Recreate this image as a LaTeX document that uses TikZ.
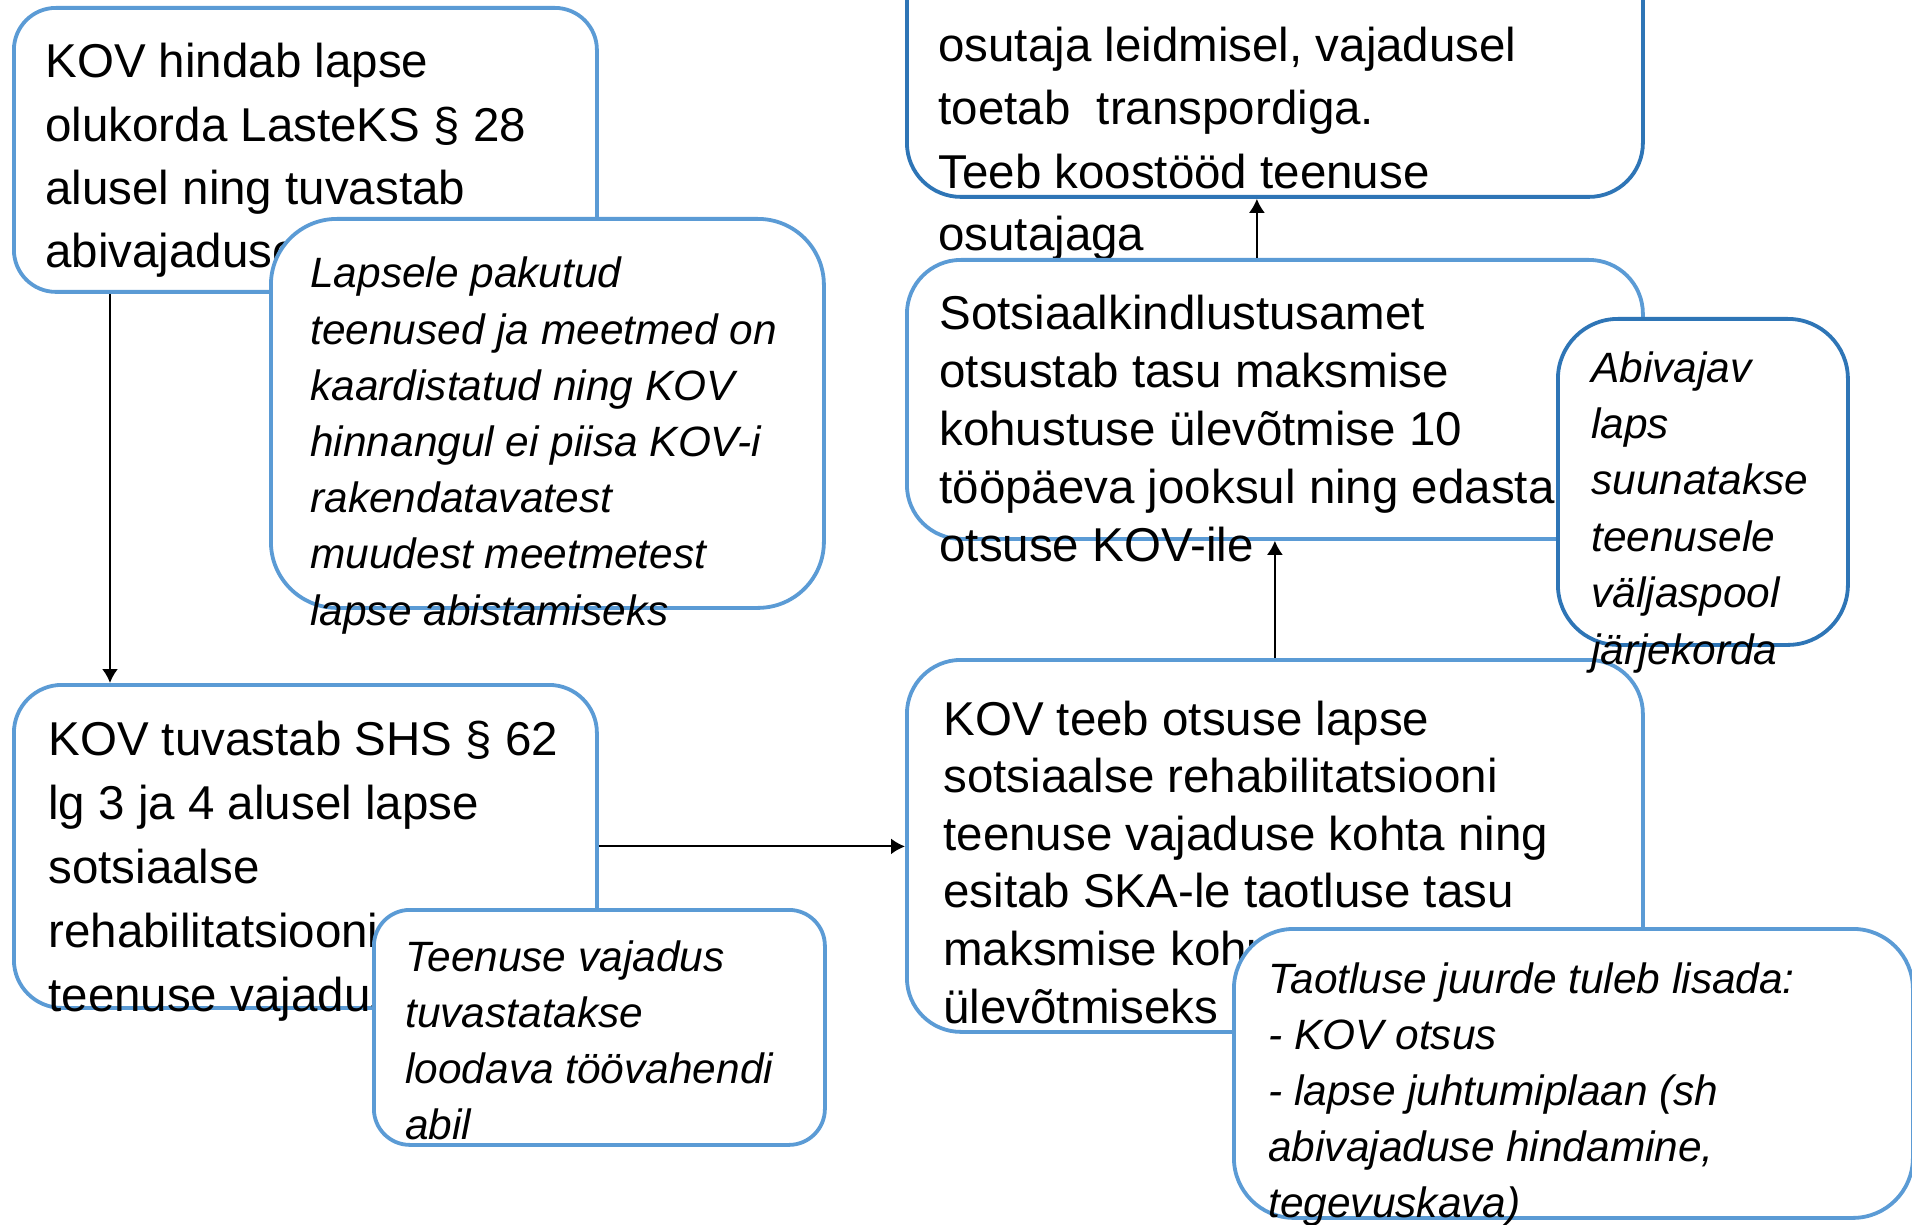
\documentclass[tikz,border=0pt]{standalone}
\usepackage{fontspec}
\setmainfont{Liberation Sans}
\usepackage{xcolor}
\usepackage{tikz}
\usetikzlibrary{arrows.meta}
\definecolor{kastsinine}{RGB}{91,155,213}
\definecolor{tumesinine}{RGB}{46,117,182}
\tikzset{
	kast/.style={draw=kastsinine,fill=white,line width=1.9pt,anchor=north west,inner sep=0pt},
	tekst/.style={align=left,inner sep=0pt,anchor=base west,font=\fontsize{23.75pt}{#1}\selectfont},
	kald/.style={align=left,inner sep=0pt,anchor=base west,font=\itshape\fontsize{21.2pt}{#1}\selectfont},
	pil/.style={-{Latex[length=7pt,width=8pt]},line width=1pt}
}

\begin{document}
\begin{tikzpicture}[x=0.5pt,y=-0.5pt]
	\useasboundingbox (0,0) rectangle (1912,1225);
	% vasak pool (teksti koht = viimase rea alusjoon)
	\node [kast,rounded corners=21pt,minimum width=291.5pt,minimum height=142pt] (hinnang) at (12,6) {};
	\node [tekst=31.7pt] (hinnangtxt) at (45,268) {KOV hindab lapse\\olukorda LasteKS § 28\\alusel ning tuvastab\\abivajaduse};
	\node [kast,rounded corners=33pt,minimum width=276.5pt,minimum height=194.5pt] (pakutud) at (269,217) {};
	\node [kald=28.1pt] (pakututxt) at (310,625) {Lapsele pakutud\\teenused ja meetmed on\\kaardistatud ning KOV\\hinnangul ei piisa KOV-i\\rakendatavatest\\muudest meetmetest\\lapse abistamiseks};
	\node [kast,rounded corners=24pt,minimum width=291.5pt,minimum height=161.5pt] (tuvastab) at (12,683) {};
	\node [tekst=31.9pt] (tuvastabtxt) at (48,1011) {KOV tuvastab SHS § 62\\lg 3 ja 4 alusel lapse\\sotsiaalse\\rehabilitatsiooni\\teenuse vajaduse};
	\node [kast,rounded corners=18pt,minimum width=225.5pt,minimum height=117.5pt] (vajadus) at (372,908) {};
	\node [kald=27.9pt] (vajadustxt) at (405,1139) {Teenuse vajadus\\tuvastatakse\\loodava töövahendi\\abil};
	% parem pool
	\node [kast,draw=tumesinine,rounded corners=27pt,minimum width=368pt,minimum height=127.5pt] (teenus) at (905,-60) {};
	\node [tekst=31.5pt] (teenustxt) at (938,251) {osutaja leidmisel, vajadusel\\toetab\ \ transpordiga.\\Teeb koostööd teenuse\\osutajaga};
	\node [kast,rounded corners=27pt,minimum width=368pt,minimum height=139.5pt] (ska) at (905,258) {};
	\node [tekst=29pt] (skatxt) at (939,561) {Sotsiaalkindlustusamet\\otsustab tasu maksmise\\kohustuse ülevõtmise 10\\tööpäeva jooksul ning edastab\\otsuse KOV-ile};
	\node [kast,rounded corners=27pt,minimum width=368pt,minimum height=186pt] (otsus) at (905,658) {};
	\node [tekst=28.8pt] (otsustxt) at (943,1023) {KOV teeb otsuse lapse\\sotsiaalse rehabilitatsiooni\\teenuse vajaduse kohta ning\\esitab SKA-le taotluse tasu\\maksmise kohustuse\\ülevõtmiseks};
	\node [kast,draw=tumesinine,rounded corners=30pt,minimum width=145pt,minimum height=163pt] (abivajav) at (1556,317) {};
	\node [kald=28.2pt] (abivajavtxt) at (1591,664) {Abivajav\\laps\\suunatakse\\teenusele\\väljaspool\\järjekorda};
	\node [kast,rounded corners=30pt,minimum width=339.5pt,minimum height=144.5pt] (taotlus) at (1232,927) {};
	\node [kald=28pt] (taotlustxt) at (1268,1217) {Taotluse juurde tuleb lisada:\\- KOV otsus\\- lapse juhtumiplaan (sh\\abivajaduse hindamine,\\tegevuskava)};
	% nooled
	\draw [pil] ([xshift=49pt]hinnang.south west) -- ([xshift=49pt]tuvastab.north west);
	\draw [pil] (tuvastab.east) -- (tuvastab.east -| otsus.west);
	\draw [pil] (otsus.north) -- (ska.south);
	\draw [pil] ([xshift=-9pt]ska.north) -- ([xshift=-9pt]teenus.south);
\end{tikzpicture}
\end{document}
